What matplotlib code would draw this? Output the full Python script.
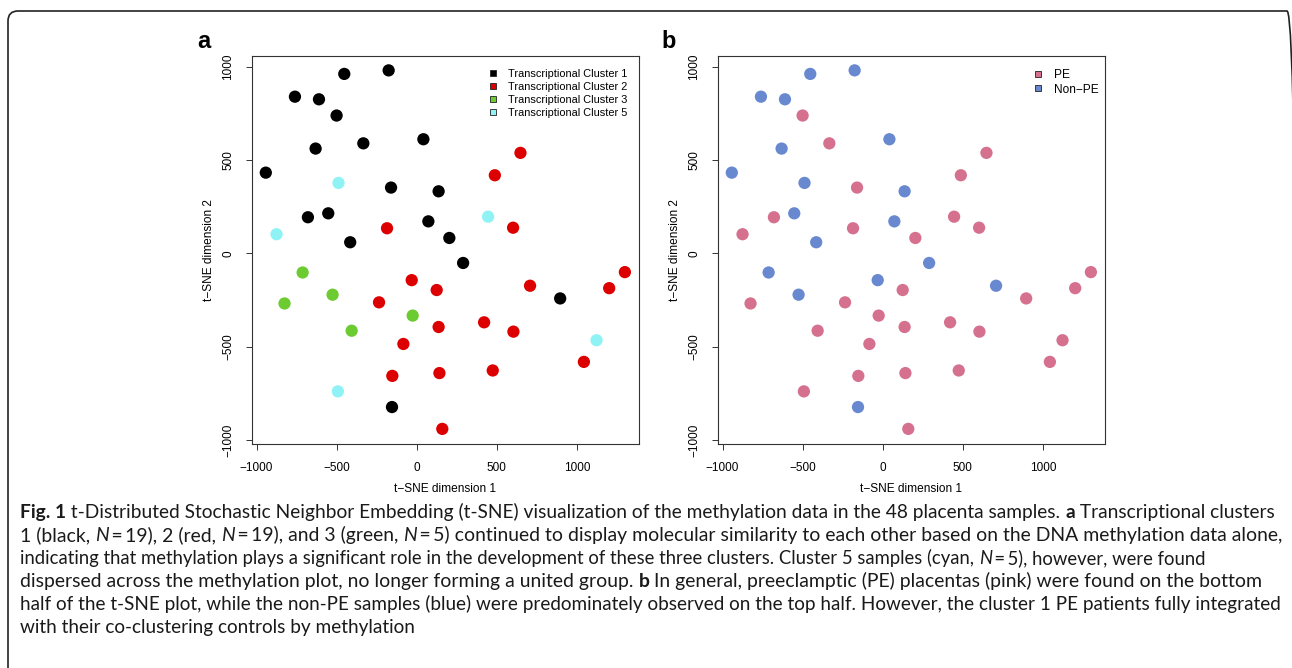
import matplotlib
matplotlib.use("Agg")
import matplotlib.pyplot as plt
from matplotlib.lines import Line2D
from matplotlib.patches import FancyBboxPatch
from matplotlib.transforms import IdentityTransform

# t-SNE coordinates of the 48 placenta samples
tsne_x = [-452, -175, -760, -610, -500, -631, -333, 42, -942, -160,
          137, -679, -552, 73, 204, -415, 290, 896, -154,
          648, 488, 602, -185, -31, 125, -235, 708, 1300, 1202,
          421, 137, 604, -83, 1044, -152, 142, 475, 160,
          -712, -825, -525, -406, -25,
          -488, -875, 446, 1123, -492]
tsne_y = [961, 980, 839, 825, 738, 561, 589, 611, 432, 352,
          332, 193, 214, 171, 82, 59, -52, -242, -824,
          538, 418, 137, 134, -144, -197, -263, -174, -101, -187,
          -370, -395, -420, -486, -582, -657, -642, -628, -941,
          -103, -269, -222, -415, -334,
          377, 102, 196, -466, -740]
cluster = [1] * 19 + [2] * 19 + [3] * 5 + [5] * 5
pe_status = ["Non-PE", "Non-PE", "Non-PE", "Non-PE", "PE", "Non-PE", "PE", "Non-PE", "Non-PE", "PE",
             "Non-PE", "PE", "Non-PE", "Non-PE", "PE", "Non-PE", "Non-PE", "PE", "Non-PE",
             "PE", "PE", "PE", "PE", "Non-PE", "PE", "PE", "Non-PE", "PE", "PE",
             "PE", "PE", "PE", "PE", "PE", "PE", "PE", "PE", "PE",
             "Non-PE", "PE", "Non-PE", "PE", "PE",
             "Non-PE", "PE", "PE", "PE", "PE"]

cluster_ids = [1, 2, 3, 5]
cluster_labels = ["Transcriptional Cluster 1", "Transcriptional Cluster 2",
                  "Transcriptional Cluster 3", "Transcriptional Cluster 5"]
cluster_colors = {1: "#000000", 2: "#DD0000", 3: "#6CCB30", 5: "#8FF3F5"}
pe_groups = ["PE", "Non-PE"]
pe_labels = ["PE", "Non\u2212PE"]
pe_colors = {"PE": "#D5708F", "Non-PE": "#6888D0"}

ticks = [-1000, -500, 0, 500, 1000]

W, H = 1292, 668
fig = plt.figure(figsize=(W / 100, H / 100), dpi=100)
fig.patch.set_facecolor("white")

FONT = "Liberation Sans"


def px_axes(left, top, right, bottom):
    return fig.add_axes([left / W, 1 - bottom / H, (right - left) / W, (bottom - top) / H])


def style_axes(ax):
    ax.set_xlim(-1030, 1390)
    ax.set_ylim(-1022, 1057)
    ax.set_xticks(ticks)
    ax.set_yticks(ticks)
    ax.set_xticklabels([str(t).replace("-", "\u2212") for t in ticks], family=FONT, fontsize=8.5)
    ax.set_yticklabels([str(t).replace("-", "\u2212") for t in ticks], family=FONT, fontsize=8.5,
                       rotation=90, va="center")
    ax.tick_params(direction="out", length=4.3, width=0.7, pad=8.4, color="#333333")
    for sp in ax.spines.values():
        sp.set_color("#333333")
        sp.set_linewidth(0.8)
    ax.set_xlabel("t\u2212SNE dimension 1", family=FONT, fontsize=8.6, labelpad=7)
    ax.set_ylabel("t\u2212SNE dimension 2", family=FONT, fontsize=8.6, labelpad=5)


def square_handles(colors):
    return [Line2D([], [], linestyle="none", marker="s", markersize=4.8,
                   markerfacecolor=c, markeredgecolor="#222222", markeredgewidth=0.6)
            for c in colors]


# panel a
ax_a = px_axes(251.7, 56, 639.3, 444)
ax_a.scatter(tsne_x, tsne_y, s=78, c=[cluster_colors[c] for c in cluster], linewidths=0)
style_axes(ax_a)
ax_a.legend(square_handles([cluster_colors[c] for c in cluster_ids]), cluster_labels,
            loc="upper left", bbox_to_anchor=(0.611, 0.966), borderaxespad=0, borderpad=0,
            frameon=False, handlelength=0.8, handletextpad=0.95, labelspacing=0.27,
            prop={"family": FONT, "size": 7.9})

# panel b
ax_b = px_axes(717.7, 56, 1105.3, 444)
ax_b.scatter(tsne_x, tsne_y, s=78, c=[pe_colors[p] for p in pe_status], linewidths=0)
style_axes(ax_b)
ax_b.legend(square_handles([pe_colors[p] for p in pe_groups]), pe_labels,
            loc="upper left", bbox_to_anchor=(0.815, 0.966), borderaxespad=0, borderpad=0,
            frameon=False, handlelength=0.8, handletextpad=0.95, labelspacing=0.2,
            prop={"family": FONT, "size": 8.6})

fig.text(197 / W, 1 - 47.5 / H, "a", family=FONT, weight="bold", fontsize=17, va="baseline")
fig.text(661 / W, 1 - 47.5 / H, "b", family=FONT, weight="bold", fontsize=17, va="baseline")

# rounded frame around the whole figure
frame = FancyBboxPatch((8, -30), 1289, H - 11 + 30, boxstyle="round,pad=0,rounding_size=10",
                       transform=IdentityTransform(), facecolor="none", edgecolor="#222222",
                       linewidth=1.2)
fig.add_artist(frame)

# caption, drawn segment by segment (R = regular, B = bold, I = italic)
caption = [
    [("B", "Fig. 1"), ("R", " t-Distributed Stochastic Neighbor Embedding (t-SNE) visualization of the methylation data in the 48 placenta samples. "),
     ("B", "a"), ("R", " Transcriptional clusters")],
    [("R", "1 (black, "), ("I", "N"), ("R", "\u2009=\u200919), 2 (red, "), ("I", "N"), ("R", "\u2009=\u200919), and 3 (green, "),
     ("I", "N"), ("R", "\u2009=\u20095) continued to display molecular similarity to each other based on the DNA methylation data alone,")],
    [("R", "indicating that methylation plays a significant role in the development of these three clusters. Cluster 5 samples (cyan, "),
     ("I", "N"), ("R", "\u2009=\u20095), however, were found")],
    [("R", "dispersed across the methylation plot, no longer forming a united group. "), ("B", "b"),
     ("R", " In general, preeclamptic (PE) placentas (pink) were found on the bottom")],
    [("R", "half of the t-SNE plot, while the non-PE samples (blue) were predominately observed on the top half. However, the cluster 1 PE patients fully integrated")],
    [("R", "with their co-clustering controls by methylation")],
]
line_ends = [1275, 1280, 1210, 1262, 1275, None]
CAP_FONT = ["Lato", "DejaVu Sans"]
renderer = fig.canvas.get_renderer()


def seg_props(kind, size):
    p = {"family": CAP_FONT, "fontsize": size, "color": "#1a1a1a"}
    if kind == "B":
        p["weight"] = "bold"
    if kind == "I":
        p["style"] = "italic"
    return p


def advance(kind, s, size):
    t1 = fig.text(0, 0, "|" + s + "|", **seg_props(kind, size))
    t2 = fig.text(0, 0, "||", **seg_props(kind, size))
    w = t1.get_window_extent(renderer).width - t2.get_window_extent(renderer).width
    t1.remove()
    t2.remove()
    return w


x0 = 20
base = 10.0
sizes = []
for line, end in zip(caption, line_ends):
    if end is None:
        sizes.append(sum(sizes) / len(sizes))
    else:
        w = sum(advance(k, s, base) for k, s in line)
        sizes.append(base * (end - x0) / w)

baselines = [518, 541, 564, 587, 610, 633]
for line, yb, size in zip(caption, baselines, sizes):
    x = x0
    for kind, s in line:
        fig.text(x / W, 1 - yb / H, s, va="baseline", ha="left", **seg_props(kind, size))
        x += advance(kind, s, size)

fig.savefig("out.png", dpi=100)
